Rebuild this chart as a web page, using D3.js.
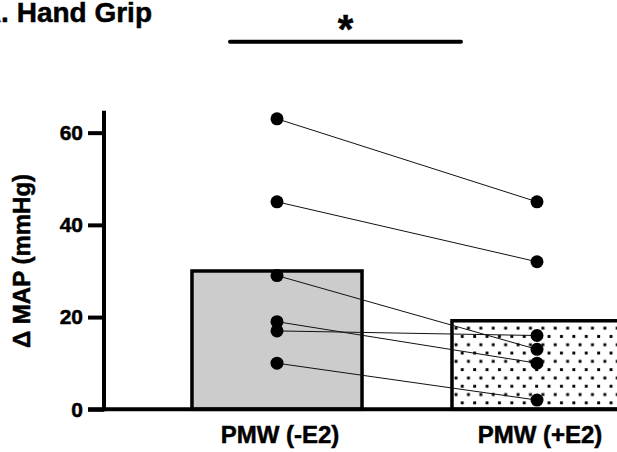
<!DOCTYPE html>
<html lang="en">
<head>
    <meta charset="UTF-8">
    <title>Hand Grip</title>
    <script src="https://d3js.org/d3.v7.min.js"></script>
    <style>
        body {
            margin: 0;
            padding: 0;
            background-color: #fff;
        }
        svg text {
            font-family: "Liberation Sans", Arial, Helvetica, sans-serif;
            font-weight: bold;
            fill: #000;
            stroke: #000;
            stroke-width: 0.5px;
        }
    </style>
</head>
<body>
    <div id="chart"></div>

    <script>
        // Values
        const groups = ["PMW (-E2)", "PMW (+E2)"];
        const means = [30.0, 19.2];
        const minusE2 = [63, 45, 29, 19, 17, 10];
        const plusE2 = [45, 32, 13, 10, 16, 2];
        const yTicks = [0, 20, 40, 60];

        const width = 617, height = 452;

        const svg = d3.select("#chart")
            .append("svg")
            .attr("width", width)
            .attr("height", height);

        // dotted fill for the +E2 bar
        const pat = svg.append("defs").append("pattern")
            .attr("id", "dots")
            .attr("patternUnits", "userSpaceOnUse")
            .attr("width", 12.4)
            .attr("height", 16.6);
        pat.append("rect").attr("width", 12.4).attr("height", 16.6).attr("fill", "#fff");
        pat.append("rect").attr("x", 2).attr("y", 3).attr("width", 2.9).attr("height", 2.9).attr("fill", "#000");
        pat.append("rect").attr("x", 8.2).attr("y", 11.3).attr("width", 2.9).attr("height", 2.9).attr("fill", "#000");

        const x = d3.scaleBand()
            .domain(groups)
            .range([147, 667])
            .paddingInner(0.346)
            .paddingOuter(0.173);

        const y = d3.scaleLinear()
            .domain([0, 65])
            .range([409.3, 109.6]);

        const fills = ["#cccccc", "url(#dots)"];

        // bars
        svg.append("g")
            .selectAll("rect")
            .data(groups)
            .enter().append("rect")
            .attr("x", d => x(d))
            .attr("y", (d, i) => y(means[i]))
            .attr("width", x.bandwidth())
            .attr("height", (d, i) => y(0) - y(means[i]))
            .attr("fill", (d, i) => fills[i])
            .attr("stroke", "#000")
            .attr("stroke-width", 3.5);

        const cx = g => x(g) + x.bandwidth() / 2;

        // paired lines
        svg.append("g")
            .selectAll("line")
            .data(minusE2)
            .enter().append("line")
            .attr("x1", cx(groups[0]))
            .attr("y1", d => y(d))
            .attr("x2", cx(groups[1]))
            .attr("y2", (d, i) => y(plusE2[i]))
            .attr("stroke", "#111")
            .attr("stroke-width", 1);

        // points
        const pts = svg.append("g");
        [minusE2, plusE2].forEach(function(vals, gi) {
            pts.selectAll(null)
                .data(vals)
                .enter().append("circle")
                .attr("cx", cx(groups[gi]))
                .attr("cy", d => y(d))
                .attr("r", 6.5)
                .attr("fill", "#000");
        });

        // x axis line (extends left like the y ticks)
        svg.append("line")
            .attr("x1", 88)
            .attr("x2", width)
            .attr("y1", y(0))
            .attr("y2", y(0))
            .attr("stroke", "#000")
            .attr("stroke-width", 4);

        const xAxis = svg.append("g")
            .attr("transform", `translate(0,${y(0)})`)
            .call(d3.axisBottom(x).tickSize(0).tickPadding(17));
        xAxis.select(".domain").remove();
        xAxis.selectAll("text")
            .attr("x", 3)
            .style("font-size", "24px");

        // y axis
        const yAxis = svg.append("g")
            .attr("transform", "translate(104,0)")
            .call(d3.axisLeft(y).tickValues(yTicks).tickSize(16).tickSizeOuter(0).tickPadding(5));
        yAxis.select(".domain").attr("stroke-width", 4).attr("d", `M0,${y(0) + 2}V110.7`);
        yAxis.selectAll(".tick line").attr("stroke-width", 4);
        yAxis.selectAll("text").style("font-size", "21px");

        svg.append("text")
            .attr("transform", `translate(30,261) rotate(-90)`)
            .attr("text-anchor", "middle")
            .style("font-size", "24px")
            .text("\u0394 MAP (mmHg)");

        // title
        svg.append("text")
            .attr("x", 152)
            .attr("y", 22)
            .attr("text-anchor", "end")
            .style("font-size", "28px")
            .text("A. Hand Grip");

        // significance bar
        svg.append("line")
            .attr("x1", 230)
            .attr("x2", 461)
            .attr("y1", 41.7)
            .attr("y2", 41.7)
            .attr("stroke", "#000")
            .attr("stroke-width", 4)
            .attr("stroke-linecap", "round");

        svg.append("text")
            .attr("x", 345.5)
            .attr("y", 43)
            .attr("text-anchor", "middle")
            .style("font-size", "40px")
            .text("*");
    </script>
</body>
</html>
